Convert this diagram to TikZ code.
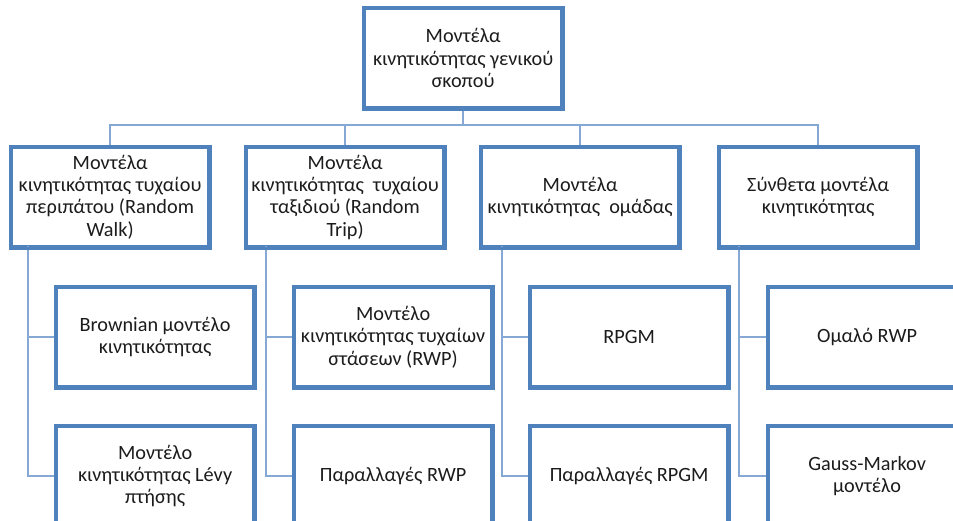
\documentclass[tikz,border=0pt]{standalone}
\usepackage{fontspec}
\setmainfont{Carlito}
\definecolor{boxblue}{RGB}{79,129,189}
\definecolor{linkblue}{RGB}{133,168,212}
\definecolor{txt}{RGB}{28,28,28}
\begin{document}
\begin{tikzpicture}[x=0.75pt,y=-0.75pt,
  box/.style={draw=boxblue, line width=2.2pt, fill=white, anchor=north west,
    minimum width=148pt, minimum height=74.5pt, inner sep=0.5pt,
    align=center, text=txt, font=\fontsize{15.2}{16.7}\selectfont},
  link/.style={draw=linkblue, line width=1.3pt}]
\clip (0,0) rectangle (953,521);
\fill[white] (0,0) rectangle (953,521);

% root
\node[box] (root) at (363,7) {Μοντέλα\\κινητικότητας γενικού\\σκοπού};

% second level
\node[box] (l1) at (10,146) {Μοντέλα\\κινητικότητας τυχαίου\\περιπάτου (Random\\Walk)};
\node[box] (l2) at (245,146) {Μοντέλα\\κινητικότητας\ \ τυχαίου\\ταξιδιού (Random\\Trip)};
\node[box] (l3) at (480,146) {Μοντέλα\\κινητικότητας\ \ ομάδας};
\node[box] (l4) at (718,146) {Σύνθετα μοντέλα\\κινητικότητας};

% third level
\node[box] (a1) at (55,286) {Brownian μοντέλο\\κινητικότητας};
\node[box] (b1) at (55,425) {Μοντέλο\\κινητικότητας Lévy\\πτήσης};
\node[box] (a2) at (293,286) {Μοντέλο\\κινητικότητας τυχαίων\\στάσεων (RWP)};
\node[box] (b2) at (293,425) {Παραλλαγές RWP};
\node[box] (a3) at (529,286) {RPGM};
\node[box] (b3) at (529,425) {Παραλλαγές RPGM};
\node[box] (a4) at (767,286) {Ομαλό RWP};
\node[box] (b4) at (767,425) {Gauss-Markov\\μοντέλο};

% bus below the root
\coordinate (bus) at (462,125);
\foreach \n in {l1,l2,l3,l4}
  \draw[link] (root.south) -- (root.south |- bus) -| (\n.north);

% branch lines from each group to its members
\coordinate (t1) at (28,246);
\coordinate (t2) at (266,246);
\coordinate (t3) at (502,246);
\coordinate (t4) at (739,246);
\foreach \i in {1,2,3,4} {
  \draw[link] (t\i) |- (a\i.west);
  \draw[link] (t\i) |- (b\i.west);
}

% redraw box outlines above the connectors
\foreach \n in {root,l1,l2,l3,l4,a1,b1,a2,b2,a3,b3,a4,b4}
  \draw[boxblue, line width=2.2pt] (\n.north west) rectangle (\n.south east);
\end{tikzpicture}
\end{document}
